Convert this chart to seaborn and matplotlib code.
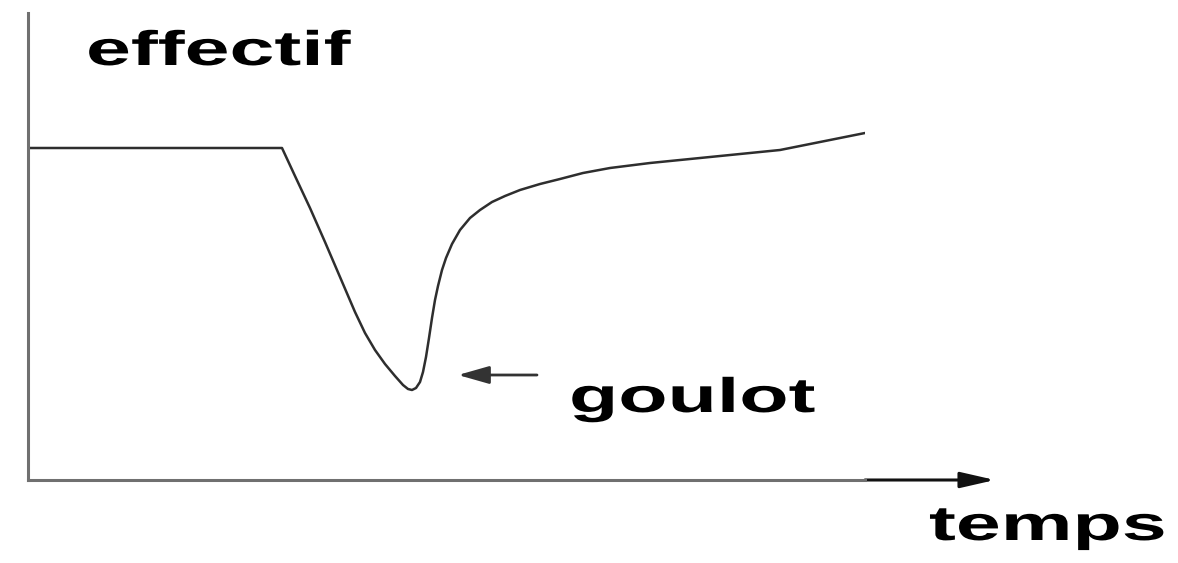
import matplotlib
matplotlib.use("Agg")
import matplotlib.pyplot as plt
import seaborn as sns
import pandas as pd
from matplotlib.patches import FancyArrowPatch
from matplotlib.patheffects import AbstractPathEffect
from matplotlib.transforms import Affine2D

# Population size over time: steady state, crash to a bottleneck, slow recovery
temps = [0.0, 25.4, 26.7, 28.2, 29.7, 31.2, 32.7, 33.7, 34.7, 35.7, 36.7, 37.5,
         38.0, 38.4, 38.8, 39.2, 39.5, 39.8, 40.1, 40.4, 40.7, 41.0, 41.4, 41.8,
         42.4, 43.2, 44.2, 45.2, 46.4, 47.7, 49.2, 51.2, 53.2, 55.5, 58.2, 62.2,
         67.2, 72.2, 75.2, 78.2, 81.2, 83.7]
effectif = [33.2, 33.2, 30.4, 27.2, 23.8, 20.3, 16.8, 14.7, 13.0, 11.6, 10.4, 9.5,
            9.1, 9.0, 9.2, 9.8, 10.8, 12.3, 14.2, 16.2, 18.0, 19.4, 21.0, 22.2,
            23.6, 25.0, 26.2, 27.0, 27.8, 28.4, 29.0, 29.6, 30.1, 30.7, 31.2, 31.7,
            32.2, 32.7, 33.0, 33.6, 34.2, 34.7]

label_y = "effectif"
label_x = "temps"
label_bottleneck = "goulot"
bottleneck_arrow_t = [50.9, 43.0]   # tail, head
bottleneck_arrow_n = 10.5

W, H, DPI = 1178, 563, 100


class HStretch(AbstractPathEffect):
    """Widen glyphs horizontally about the text origin."""

    def __init__(self, sx):
        super().__init__()
        self._sx = sx

    def draw_path(self, renderer, gc, tpath, affine, rgbFace=None):
        renderer.draw_path(gc, tpath, Affine2D().scale(self._sx, 1.0) + affine, rgbFace)


sns.set_theme(style="white")
plt.rcParams["font.family"] = ["Liberation Sans", "DejaVu Sans"]

fig = plt.figure(figsize=(W / DPI, H / DPI), dpi=DPI)
fig.patch.set_facecolor("white")


def fx(px):
    return px / W


def fy(py):
    return 1 - py / H


ax = fig.add_axes([fx(28), fy(480), fx(865) - fx(28), fy(13) - fy(480)])
ax.set_facecolor("white")

df = pd.DataFrame({"temps": temps, "effectif": effectif})
sns.lineplot(data=df, x="temps", y="effectif", sort=False, ax=ax,
             color="#2e2e2e", linewidth=1.8, solid_joinstyle="round")

ax.set_xlim(0, 83.7)
ax.set_ylim(0, 46.7)
ax.set_xticks([])
ax.set_yticks([])
ax.set_xlabel("")
ax.set_ylabel("")
for side in ("top", "right"):
    ax.spines[side].set_visible(False)
for side in ("left", "bottom"):
    ax.spines[side].set_color("#707070")
    ax.spines[side].set_linewidth(2.2)

# arrow extending the time axis
ax.add_patch(FancyArrowPatch((83.7, 0), (96.7, 0),
                             arrowstyle="-|>,head_length=21,head_width=4.8",
                             mutation_scale=1, shrinkA=0, shrinkB=0,
                             color="#111111", linewidth=2.2, clip_on=False))

# arrow pointing at the bottleneck
ax.add_patch(FancyArrowPatch((bottleneck_arrow_t[0], bottleneck_arrow_n),
                             (bottleneck_arrow_t[1], bottleneck_arrow_n),
                             arrowstyle="-|>,head_length=19,head_width=5.4",
                             mutation_scale=1, shrinkA=0, shrinkB=0,
                             color="#333333", linewidth=2.0, clip_on=False))

text_kw = dict(fontsize=35, fontweight="bold", color="black",
               ha="left", va="baseline",
               path_effects=[HStretch(1.66)])
fig.text(fx(86), fy(65), label_y, **text_kw)
fig.text(fx(569), fy(412), label_bottleneck, **text_kw)
fig.text(fx(929), fy(540), label_x, **text_kw)

fig.savefig("out.png", dpi=DPI, facecolor="white")
